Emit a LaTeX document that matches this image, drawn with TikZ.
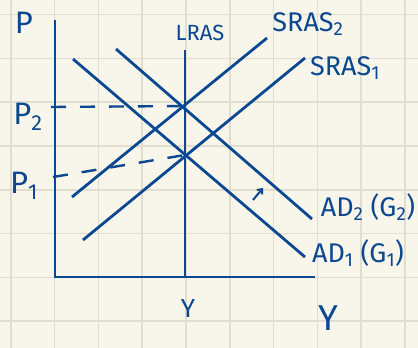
\documentclass[tikz,border=0pt]{standalone}
\usepackage{fontspec}
\setmainfont{Fira Sans}
\usetikzlibrary{arrows.meta}
\definecolor{ink}{RGB}{12,72,145}
\definecolor{paper}{RGB}{248,246,234}
\definecolor{gridline}{RGB}{225,222,207}
\tikzset{
  curve/.style={ink, line width=2.8pt},
  guide/.style={ink, line width=2.4pt, dash pattern=on 15pt off 14pt},
  lbl/.style={ink, inner sep=1pt, font=\fontsize{27}{29}\selectfont},
  biglbl/.style={lbl, font=\fontsize{31}{33}\selectfont},
}
\begin{document}
\begin{tikzpicture}[x=1pt,y=-1pt]
  \fill[paper] (0,0) rectangle (418,348);
  \useasboundingbox (0,0) rectangle (418,348);
  \foreach \i in {0,...,9}
    \draw[gridline, line width=1.6pt] (10.8+43.8*\i,0) -- (10.8+43.8*\i,348);
  \foreach \j in {0,...,7}
    \draw[gridline, line width=1.6pt] (0,14.5+43.8*\j) -- (418,14.5+43.8*\j);

  % axes
  \coordinate (O) at (55,277);
  \coordinate (ytop) at (55,20);
  \coordinate (xend) at (315,277);
  \draw[curve] (ytop) -- (O) -- (xend);
  \node[biglbl] (plbl) at (24,23) {P};
  \node[biglbl, font=\fontsize{36}{38}\selectfont] (ylbl) at (328,318) {Y};

  % long run supply
  \coordinate (lrasbot) at (185,277);
  \coordinate (lrastop) at (185,50);
  \draw[curve] (lrasbot) -- (lrastop);
  \node[lbl, font=\fontsize{22}{24}\selectfont] (lraslbl) at (200,33) {LRAS};
  \node[lbl, font=\fontsize{26}{28}\selectfont] (yfull) at (188,309) {Y};

  % short run supply
  \coordinate (sras2a) at (72,197);
  \coordinate (sras2b) at (267,38);
  \coordinate (sras1a) at (83,240);
  \coordinate (sras1b) at (305,58);
  \draw[curve] (sras2a) -- (sras2b);
  \draw[curve] (sras1a) -- (sras1b);
  \node[lbl] (sras2lbl) at (308,24) {SRAS\textsubscript{2}};
  \node[lbl] (sras1lbl) at (345,68) {SRAS\textsubscript{1}};

  % aggregate demand
  \coordinate (ad1a) at (73,59);
  \coordinate (ad1b) at (305,257);
  \coordinate (ad2a) at (116,49);
  \coordinate (ad2b) at (312,219);
  \draw[curve] (ad1a) -- (ad1b);
  \draw[curve] (ad2a) -- (ad2b);
  \node[lbl] (ad2lbl) at (368,207) {AD\textsubscript{2} (G\textsubscript{2})};
  \node[lbl] (ad1lbl) at (358,253) {AD\textsubscript{1} (G\textsubscript{1})};

  % shift arrow
  \coordinate (shift0) at (253,200);
  \coordinate (shift1) at (263,188);
  \draw[ink, line width=2pt, -{Straight Barb[length=4pt,width=7pt]}] (shift0) -- (shift1);

  % equilibria and price levels
  \coordinate (E2) at (185,106);
  \coordinate (E1) at (185,155);
  \coordinate (p2tick) at (51,107);
  \coordinate (p1tick) at (53,177);
  \draw[guide] (p2tick) -- (E2);
  \draw[guide] (p1tick) -- (E1);
  \node[biglbl] (p2lbl) at (28,117) {P\textsubscript{2}};
  \node[biglbl] (p1lbl) at (24,186) {P\textsubscript{1}};
\end{tikzpicture}
\end{document}
